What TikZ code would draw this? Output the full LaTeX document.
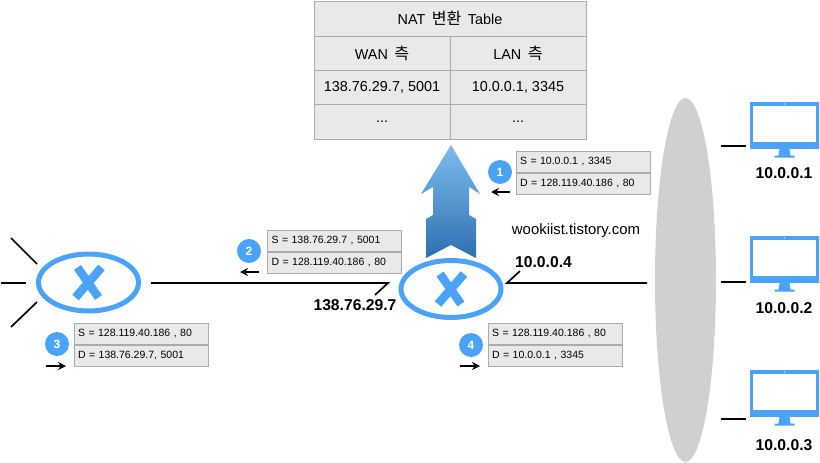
\documentclass[tikz,border=0pt]{standalone}
\usepackage{fontspec}
\setmainfont{Liberation Sans}
\newfontfamily\krfont[Scale=1.12]{Noto Sans CJK KR}
\usepackage{tikz}
\usetikzlibrary{arrows.meta, shapes.geometric}
\definecolor{netblue}{HTML}{4AA3F8}
\definecolor{cellgray}{HTML}{E9E9E9}
\definecolor{rulegray}{HTML}{ABABAB}
\definecolor{lanblob}{HTML}{D0D0D0}
\definecolor{arrowtop}{HTML}{7DBCF0}
\definecolor{arrowmid}{HTML}{5799D6}
\definecolor{arrowlow}{HTML}{2E70AE}
\tikzset{
  cell/.style={draw=rulegray, fill=cellgray, line width=1pt, inner sep=0pt, font=\fontsize{14.4}{16}\selectfont},
  pktrow/.style={draw=rulegray, fill=cellgray, line width=1pt, anchor=north west, minimum width=134pt, minimum height=21pt, inner sep=0pt, inner xsep=4pt, text width=126pt, align=left, font=\fontsize{10.5}{12}\selectfont},
  badge/.style={circle, fill=netblue, text=white, minimum size=24pt, inner sep=0pt, font=\bfseries\fontsize{12}{13}\selectfont},
  router/.style={ellipse, draw=netblue, line width=5pt, minimum width=100pt, minimum height=57pt, inner sep=0pt},
  crossbar/.style={draw=netblue, line width=8.5pt},
  addr/.style={inner sep=0pt, font=\bfseries\fontsize{15.7}{17}\selectfont},
  wire/.style={line width=1.7pt, black},
  flow/.style={line width=1.4pt, -{Stealth[length=8pt, width=8pt]}},
  screen/.style={fill=netblue, minimum width=69pt, minimum height=47pt, inner sep=0pt}
}
\begin{document}
\begin{tikzpicture}[x=1pt, y=-1pt]
    \useasboundingbox (0,0) rectangle (820,463);
    % translation table
    \node[cell, minimum width=272pt, minimum height=35pt] (title) at (450,18.5) {NAT\, {\krfont 변환}\, Table};
    \node[cell, minimum width=136pt, minimum height=34pt] (wan) at (382,53) {WAN\, {\krfont 측}};
    \node[cell, minimum width=136pt, minimum height=34pt] (lan) at (518,53) {LAN\, {\krfont 측}};
    \node[cell, minimum width=136pt, minimum height=35pt] (wanaddr) at (382,87.5) {138.76.29.7, 5001};
    \node[cell, minimum width=136pt, minimum height=35pt] (lanaddr) at (518,87.5) {10.0.0.1, 3345};
    \node[cell, minimum width=136pt, minimum height=35pt] (wandots) at (382,122) {...};
    \node[cell, minimum width=136pt, minimum height=35pt] (landots) at (518,122) {...};

    % lookup arrow
    \shade[top color=arrowtop, middle color=arrowmid, bottom color=arrowlow]
      (451,145) -- (480,194) -- (469,187) -- (469,215) -- (476,219) -- (476,258) -- (451,245)
      -- (426,258) -- (426,219) -- (433,215) -- (433,187) -- (421,194) -- cycle;

    % routers
    \node[router] (routerL) at (88.5,282.5) {};
    \node[router] (routerR) at (451,289) {};
    \foreach \r in {routerL, routerR} {
      \draw[crossbar] ([shift={(-11,-15)}]\r.center) -- ([shift={(10,15)}]\r.center);
      \draw[crossbar] ([shift={(13,-15)}]\r.center) -- ([shift={(-13,15)}]\r.center);
    }

    % outside links of the left router
    \coordinate (upL) at (11,238);
    \coordinate (upR) at (37,264);
    \coordinate (midL) at (1,283);
    \coordinate (midR) at (26,283);
    \coordinate (lowL) at (11,327);
    \coordinate (lowR) at (37,302);
    \draw[wire] (upL) -- (upR);
    \draw[wire] (midL) -- (midR);
    \draw[wire] (lowL) -- (lowR);

    % links and address labels
    \coordinate (wanL) at (151,283);
    \coordinate (wanR) at (388,283);
    \coordinate (wanTick) at (375,295);
    \coordinate (lanL) at (507,283);
    \coordinate (lanR) at (647,283);
    \coordinate (lanTick) at (520,271);
    \draw[wire] (wanL) -- (wanR) -- (wanTick);
    \draw[wire] (lanTick) -- (lanL) -- (lanR);
    \node[addr] (wanip) at (355,305.5) {138.76.29.7};
    \node[addr] (lanip) at (543.5,262) {10.0.0.4};
    \node[inner sep=0pt, font=\fontsize{14.9}{17}\selectfont] (mark) at (576,231) {wookiist.tistory.com};

    % packet 1
    \node[pktrow] (p1s) at (515.5,150.5) {S = 10.0.0.1 , 3345};
    \node[pktrow] (p1d) at (p1s.south west) {D = 128.119.40.186 , 80};
    \node[badge] (b1) at (500,172) {1};
    \coordinate (f1a) at (510,192);
    \coordinate (f1b) at (491,192);
    \draw[flow] (f1a) -- (f1b);
    % packet 2
    \node[pktrow] (p2s) at (267,230) {S = 138.76.29.7 , 5001};
    \node[pktrow] (p2d) at (p2s.south west) {D = 128.119.40.186 , 80};
    \node[badge] (b2) at (249,251) {2};
    \coordinate (f2a) at (259,272);
    \coordinate (f2b) at (240,272);
    \draw[flow] (f2a) -- (f2b);
    % packet 3
    \node[pktrow] (p3s) at (73.5,323) {S = 128.119.40.186 , 80};
    \node[pktrow] (p3d) at (p3s.south west) {D = 138.76.29.7, 5001};
    \node[badge] (b3) at (57,344) {3};
    \coordinate (f3a) at (46,366);
    \coordinate (f3b) at (66,366);
    \draw[flow] (f3a) -- (f3b);
    % packet 4
    \node[pktrow] (p4s) at (487.5,323) {S = 128.119.40.186 , 80};
    \node[pktrow] (p4d) at (p4s.south west) {D = 10.0.0.1 , 3345};
    \node[badge] (b4) at (471,345) {4};
    \coordinate (f4a) at (460,366);
    \coordinate (f4b) at (480,366);
    \draw[flow] (f4a) -- (f4b);

    % private network
    \node[ellipse, fill=lanblob, minimum width=61pt, minimum height=364pt, inner sep=0pt] (lanblob) at (685.5,280) {};

    % hosts
    \foreach \i/\y/\s/\t/\ip in {1/125.5/146/173/10.0.0.1, 2/259.5/282.3/308.3/10.0.0.2, 3/393.5/419/445/10.0.0.3} {
      \node[screen] (pc\i) at (784.5,\y) {};
      \fill[white] ([shift={(-31.5,-19.5)}]pc\i.center) rectangle ([shift={(31.5,16.5)}]pc\i.center);
      \fill[netblue] ([shift={(-5,23.5)}]pc\i.center) -- ([shift={(5,23.5)}]pc\i.center) -- ([shift={(6,30)}]pc\i.center)
        -- ([shift={(10,30)}]pc\i.center) -- ([shift={(10,32)}]pc\i.center) -- ([shift={(-10,32)}]pc\i.center)
        -- ([shift={(-10,30)}]pc\i.center) -- ([shift={(-6,30)}]pc\i.center) -- cycle;
      \fill[white] ([shift={(0,-21.5)}]pc\i.center) circle (0.6);
      \node[addr] (ip\i) at (784,\t) {\ip};
      \coordinate (stubL\i) at (721,\s);
      \coordinate (stubR\i) at (746,\s);
      \draw[wire] (stubL\i) -- (stubR\i);
    }
\end{tikzpicture}
\end{document}
